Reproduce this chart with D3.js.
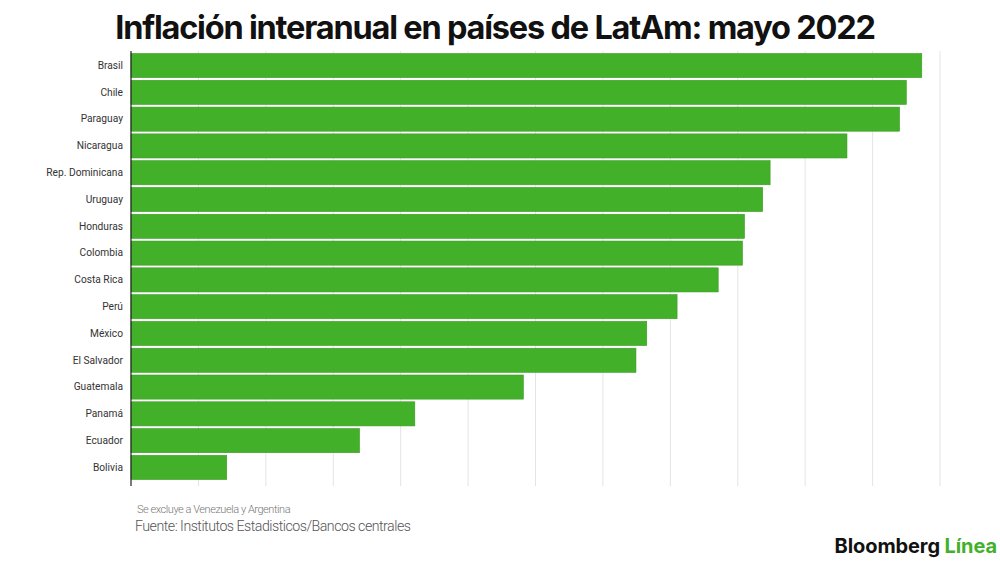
<!DOCTYPE html>
<html>
<head>
<meta charset="utf-8">
<script src="https://cdn.jsdelivr.net/npm/d3@7"></script>
<style>
  body { margin: 0; background: #fff; }
  svg { display: block; }
</style>
</head>
<body>
<svg id="chart" width="1000" height="564"></svg>
<script>
// Inflación interanual, mayo 2022 (%)
const countries = ["Brasil", "Chile", "Paraguay", "Nicaragua", "Rep. Dominicana", "Uruguay",
  "Honduras", "Colombia", "Costa Rica", "Perú", "México", "El Salvador",
  "Guatemala", "Panamá", "Ecuador", "Bolivia"];
const inflation = [11.73, 11.5, 11.4, 10.62, 9.48, 9.37, 9.1, 9.07, 8.71, 8.1, 7.65, 7.49,
  5.82, 4.21, 3.39, 1.42];
const gridTicks = d3.range(0, 13, 1);

const svg = d3.select("#chart");
const green = "#43b02a";

const x = d3.scaleLinear().domain([0, 12]).range([131, 940]);
const y = d3.scaleBand().domain(countries).range([53.5, 479.5]).paddingInner(0.1);

// title
svg.append("text")
  .attr("x", 495)
  .attr("y", 38.5)
  .attr("text-anchor", "middle")
  .attr("font-family", "Inter, 'Liberation Sans', sans-serif")
  .attr("font-weight", 700)
  .attr("font-size", 32.5)
  .attr("letter-spacing", "-1.2px")
  .attr("fill", "#111")
  .text("Inflación interanual en países de LatAm: mayo 2022");

// vertical gridlines
svg.append("g")
  .selectAll("line")
  .data(gridTicks.slice(1))
  .enter()
  .append("line")
  .attr("x1", d => x(d))
  .attr("x2", d => x(d))
  .attr("y1", 51)
  .attr("y2", 486)
  .attr("stroke", "#e4e4e4")
  .attr("stroke-width", 1);

// bars
svg.append("g")
  .selectAll("rect")
  .data(countries)
  .enter()
  .append("rect")
  .attr("x", x(0))
  .attr("y", d => y(d))
  .attr("width", (d, i) => x(inflation[i]) - x(0))
  .attr("height", y.bandwidth())
  .attr("fill", green)
  .attr("stroke", "#3a9c24")
  .attr("stroke-width", 0.6);

// category axis
const yAxis = svg.append("g")
  .attr("transform", `translate(${x(0)},0)`)
  .call(d3.axisLeft(y).tickSize(0).tickPadding(8));
yAxis.select(".domain").remove();
yAxis.selectAll("text")
  .attr("font-family", "Roboto, 'Noto Sans', sans-serif")
  .attr("font-size", 10.2)
  .attr("fill", "#333");

svg.append("line")
  .attr("x1", x(0))
  .attr("x2", x(0))
  .attr("y1", 51)
  .attr("y2", 486)
  .attr("stroke", "#222")
  .attr("stroke-width", 1.2);

// notes
svg.append("text")
  .attr("x", 137)
  .attr("y", 513)
  .attr("font-family", "Roboto, sans-serif")
  .attr("font-weight", 300)
  .attr("font-size", 11)
  .attr("letter-spacing", "-0.45px")
  .attr("fill", "#777")
  .text("Se excluye a Venezuela y Argentina");

svg.append("text")
  .attr("x", 135)
  .attr("y", 531)
  .attr("font-family", "Roboto, sans-serif")
  .attr("font-weight", 300)
  .attr("font-size", 14.2)
  .attr("letter-spacing", "-0.5px")
  .attr("fill", "#555")
  .text("Fuente: Institutos Estadisticos/Bancos centrales");

// logo
const logo = svg.append("text")
  .attr("x", 997)
  .attr("y", 553)
  .attr("text-anchor", "end")
  .attr("font-family", "Inter, 'Liberation Sans', sans-serif")
  .attr("font-weight", 700)
  .attr("font-size", 20)
  .attr("letter-spacing", "-0.1px");
logo.append("tspan").attr("fill", "#111").text("Bloomberg ");
logo.append("tspan").attr("fill", green).text("Línea");
</script>
</body>
</html>
